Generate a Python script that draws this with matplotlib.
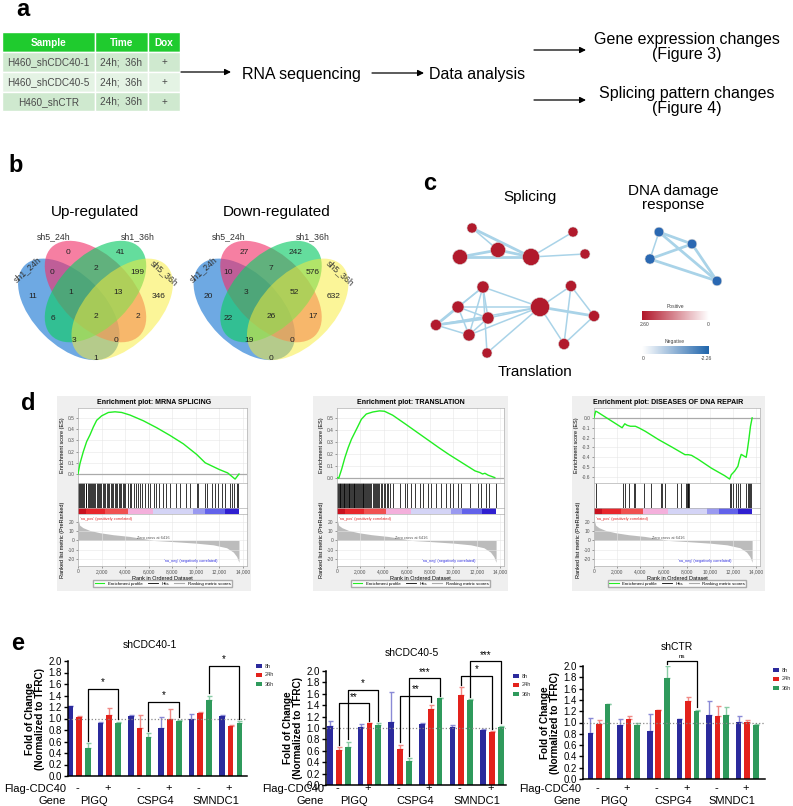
import numpy as np
import matplotlib
matplotlib.use('Agg')
import matplotlib.pyplot as plt
from matplotlib.patches import Rectangle, Ellipse, Patch
from matplotlib.lines import Line2D
from matplotlib.colors import LinearSegmentedColormap
import matplotlib.transforms as mtrans

plt.rcParams['font.family'] = ['Liberation Sans', 'DejaVu Sans']

W, H = 793, 806

######################################################################
# data

# a: samples
table_header = ['Sample', 'Time', 'Dox']
table_rows = [['H460_shCDC40-1', '24h;  36h', '+'],
              ['H460_shCDC40-5', '24h;  36h', '+'],
              ['H460_shCTR', '24h;  36h', '+']]

# b: venn counts (regions: p, g, bp, pg, gy, b, bpg, pgy, y, bg, bpgy, py, bgy, bpy, by)
venn_sets = ['sh1_24h', 'sh5_24h', 'sh1_36h', 'sh5_36h']
up_counts = [0, 41, 0, 2, 199, 11, 1, 13, 346, 6, 2, 2, 3, 0, 1]
down_counts = [27, 242, 10, 7, 576, 20, 3, 52, 632, 22, 26, 17, 19, 0, 0]

# c: enrichment map (node size ~ gene set size, edges = overlaps)
splice_size = [5, 7.5, 7.5, 8.5, 5, 5, 6, 6, 5.5, 6, 6, 5, 9.5, 5.5, 5.5, 5.5]
splice_edges = [(0, 2), (0, 3), (1, 2), (1, 3), (2, 3), (3, 4), (3, 5),
                (6, 7), (6, 8), (6, 9), (6, 10), (6, 11), (6, 12), (7, 8), (7, 9),
                (7, 10), (7, 12), (8, 9), (8, 10), (8, 12), (9, 10), (9, 12),
                (10, 12), (11, 12), (12, 13), (12, 14), (12, 15), (13, 14),
                (13, 15), (14, 15)]
dna_size = [4.8, 4.8, 5, 4.8]
dna_edges = [(0, 1), (0, 2), (0, 3), (1, 2), (1, 3), (2, 3)]

# d: GSEA
mrna_rank = [0, 170, 450, 735, 1018, 1300, 1584, 2010, 2574, 3140, 3710, 4412, 5543,
             6674, 7806, 8937, 10070, 10700, 10800, 11300, 12000, 12700, 13330, 13660]
mrna_es = [0, 0.095, 0.20, 0.29, 0.35, 0.42, 0.48, 0.52, 0.55, 0.556, 0.55, 0.527, 0.476,
           0.414, 0.345, 0.27, 0.175, 0.11, 0.10, 0.075, 0.04, 0.01, -0.045, 0.0]
mrna_hits = [40, 110, 200, 290, 370, 460, 540, 640, 720, 820, 920, 1010, 1100, 1200, 1290,
             1390, 1480, 1570, 1680, 1790, 1880, 1990, 2100, 2210, 2320, 2430, 2550, 2660,
             2770, 2880, 3000, 3110, 3230, 3350, 3450, 3570, 3680, 3800, 3910, 4030, 4250,
             4390, 4530, 4730, 4900, 5100, 5240, 5470, 5670, 5950, 6150, 6420, 6650, 6900,
             7200, 7450, 7800, 8350, 8640, 9200, 9500, 10060, 10200, 10770, 10910, 11340,
             11620, 11900, 12180, 12470, 12900, 13040, 13240, 13460, 13600]

trans_rank = [0, 150, 400, 679, 962, 1244, 1527, 1810, 2093, 2517, 3083, 3648, 4073, 4780,
              5911, 7325, 8739, 9588, 10719, 11850, 12275, 12500, 12700, 12982, 13548]
trans_es = [0, -0.005, 0.07, 0.167, 0.25, 0.32, 0.375, 0.43, 0.486, 0.53, 0.547, 0.556,
            0.553, 0.52, 0.444, 0.347, 0.25, 0.194, 0.125, 0.056, 0.042, 0.03, 0.036, 0.02, 0.0]
trans_hits = [30, 90, 150, 230, 300, 360, 430, 500, 570, 640, 700, 780, 850, 920, 990, 1060,
              1130, 1200, 1270, 1340, 1420, 1490, 1560, 1640, 1720, 1800, 1880, 1950, 2030,
              2110, 2190, 2270, 2350, 2430, 2520, 2600, 2690, 2780, 2870, 2960, 3060, 3150,
              3250, 3340, 3440, 3540, 3640, 3760, 3880, 4000, 4130, 4270, 4420, 4580, 4800,
              5400, 5830, 5980, 6320, 6690, 7120, 7400, 7830, 8110, 8540, 8970, 9390, 9680,
              9960, 10390, 10670, 11380, 12100, 12380, 12810, 13090, 13620]

dna_rank = [0, 143, 286, 2429, 2658, 2858, 3144, 3573, 3858, 4430, 5573, 6716, 7860, 8145,
            8431, 9003, 10146, 11289, 11718, 11861, 12147, 12432, 12575, 12718, 13146, 13232,
            13375, 13518, 13660]
dna_es = [0, 0.068, 0.06, -0.10, -0.06, -0.075, -0.085, -0.085, -0.10, -0.136, -0.22,
          -0.295, -0.373, -0.373, -0.38, -0.42, -0.51, -0.586, -0.62, -0.576, -0.54, -0.49,
          -0.42, -0.37, -0.40, -0.34, -0.22, -0.085, 0.0]
dna_hits = [200, 2486, 2658, 3058, 3430, 3573, 4287, 4916, 5773, 5916, 6145, 7145, 7517,
            7917, 8002, 8088, 8145, 8231, 11718, 11861, 12004, 12289, 12432, 12575, 13146,
            13289, 13432, 13518, 13604]

metric_rank = [0, 142, 425, 992, 1842, 2976, 4393, 5810, 6416, 7500, 8700, 10060, 11480,
               12610, 13180, 13460, 13660]
metric_val = [24, 16.7, 14, 11, 8.5, 6.3, 4.4, 1.5, 0, -0.8, -1.8, -3, -4.8, -8, -12.8,
              -17.6, -24]
band_edges = [0, 700, 2300, 4250, 6380, 9780, 10770, 12470, 13660]
band_colors = ['#c8101e', '#e8262c', '#f05050', '#f4b0dc', '#d4d4f6', '#9a9af0',
               '#6262ea', '#2f1fd0']

# e: qPCR, groups = PIGQ-, PIGQ+, CSPG4-, CSPG4+, SMNDC1-, SMNDC1+
flag = ['-', '+', '-', '+', '-', '+']
genes = ['PIGQ', 'CSPG4', 'SMNDC1']
times = ['8h', '24h', '36h']

sh1_vals = [[1.21, 0.93, 1.05, 0.84, 0.99, 1.05],
            [1.03, 1.06, 0.83, 1.00, 1.09, 0.87],
            [0.49, 0.925, 0.68, 0.96, 1.33, 0.92]]
sh1_err = [[0.0, 0.01, 0.01, 0.18, 0.08, 0.01],
           [0.01, 0.12, 0.23, 0.17, 0.03, 0.01],
           [0.08, 0.02, 0.06, 0.02, 0.07, 0.03]]
sh1_sig = [(0, 2, 1, 2, 1.51, '*'), (2, 2, 3, 2, 1.29, '*'), (4, 2, 5, 2, 1.92, '*')]

sh5_vals = [[1.04, 1.02, 1.11, 1.07, 1.01, 0.97],
            [0.61, 1.08, 0.63, 1.34, 1.58, 0.93],
            [0.66, 1.05, 0.42, 1.52, 1.50, 1.02]]
sh5_err = [[0.09, 0.05, 0.52, 0.01, 0.05, 0.01],
           [0.06, 0.01, 0.08, 0.07, 0.14, 0.02],
           [0.10, 0.04, 0.05, 0.01, 0.01, 0.02]]
sh5_sig = [(0, 1, 1, 1, 1.43, '**'), (0, 2, 1, 2, 1.67, '*'), (2, 1, 3, 1, 1.56, '**'),
           (2, 2, 3, 2, 1.87, '***'), (4, 1, 5, 1, 1.92, '*'), (4, 2, 5, 2, 2.17, '***')]

ctr_vals = [[0.82, 0.96, 0.85, 1.06, 1.13, 1.01],
            [0.97, 1.07, 1.22, 1.38, 1.12, 1.01],
            [1.32, 0.95, 1.78, 1.20, 1.13, 0.95]]
ctr_err = [[0.26, 0.11, 0.30, 0.0, 0.25, 0.10],
           [0.08, 0.04, 0.01, 0.07, 0.17, 0.03],
           [0.0, 0.04, 0.22, 0.03, 0.15, 0.03]]
ctr_sig = [(2, 2, 3, 2, 2.09, 'ns')]


######################################################################
# figure / helpers

fig = plt.figure(figsize=(W / 100, H / 100), dpi=100)
bg = fig.add_axes([0, 0, 1, 1])
bg.set_xlim(0, W)
bg.set_ylim(H, 0)
bg.axis('off')


def px_axes(x0, y0, x1, y1):
    return fig.add_axes([x0 / W, 1 - y1 / H, (x1 - x0) / W, (y1 - y0) / H])


for lab, x, y in [('a', 23, 10), ('b', 16, 166), ('c', 430, 183), ('d', 28, 403), ('e', 18, 644)]:
    bg.text(x, y, lab, fontsize=17, fontweight='bold', ha='center', va='center')

######################################################################
# a

col_x = [2, 95, 148, 180]
row_y = [32, 52, 72, 92, 111]
row_cols = ['#1fcb2e', '#cfe9cf', '#e4f3e4', '#cfe9cf']
cells = [table_header] + table_rows
for r in range(4):
    for c in range(3):
        bg.add_patch(Rectangle((col_x[c], row_y[r]), col_x[c + 1] - col_x[c], row_y[r + 1] - row_y[r],
                               facecolor=row_cols[r], edgecolor='white', lw=1))
        bg.text((col_x[c] + col_x[c + 1]) / 2, (row_y[r] + row_y[r + 1]) / 2 + 0.5, cells[r][c],
                ha='center', va='center', fontsize=7.2,
                color='white' if r == 0 else '#4a4a4a', fontweight='bold' if r == 0 else 'normal')

arr = dict(arrowstyle='-|>', lw=0.9, color='black', mutation_scale=9, shrinkA=0, shrinkB=0)
bg.annotate('', xy=(231, 72), xytext=(181, 72), arrowprops=arr)
bg.text(242, 74, 'RNA sequencing', fontsize=11.5, va='center')
bg.annotate('', xy=(424, 73), xytext=(372, 73), arrowprops=arr)
bg.text(429, 74, 'Data analysis', fontsize=11.5, va='center')
bg.annotate('', xy=(586, 50), xytext=(534, 50), arrowprops=arr)
bg.annotate('', xy=(586, 100), xytext=(534, 100), arrowprops=arr)
bg.text(687, 47, 'Gene expression changes\n(Figure 3)', fontsize=11.5, ha='center', va='center',
        linespacing=1.05)
bg.text(687, 101, 'Splicing pattern changes\n(Figure 4)', fontsize=11.5, ha='center', va='center',
        linespacing=1.05)

######################################################################
# b

venn_shapes = [(0.35, 0.47, 45, '#2a80d6', 0.68), (0.5, 0.57, 45, '#f2306a', 0.62),
               (0.5, 0.57, -45, '#14cc6a', 0.66), (0.65, 0.47, -45, '#f8ec3a', 0.52)]
count_pos = [(-27, -51), (25, -51), (-43, -31), (0, -35), (42, -31), (-63, -7), (-25, -12),
             (23, -12), (63, -7), (-43, 14), (0, 13), (42, 13), (-22, 36), (21, 36), (0, 54)]
set_pos = [(-68, -34, 42), (-42, -67, 0), (42, -67, 0), (69, -31, -42)]


def venn(cx, cy, counts, title, tx):
    S = 178
    for u, v, ang, col, al in venn_shapes:
        bg.add_patch(Ellipse((cx + (u - 0.5) * S, cy - (v - 0.5) * S), 0.7 * S, 0.4 * S,
                             angle=ang, facecolor=col, alpha=al, edgecolor='none'))
    for (dx, dy), n in zip(count_pos, counts):
        bg.text(cx + dx, cy + dy, str(n), ha='center', va='center', fontsize=6, color='#222222')
    for (dx, dy, rot), name in zip(set_pos, venn_sets):
        bg.text(cx + dx, cy + dy, name, ha='center', va='center', fontsize=6.3,
                color='#333333', rotation=rot)
    bg.text(tx, 212, title, ha='center', va='center', fontsize=11)


venn(95.5, 304, up_counts, 'Up-regulated', 95)
venn(271, 304, down_counts, 'Down-regulated', 277)

######################################################################
# c

splice_layout = [(472, 228), (460, 257), (498, 250), (531, 257), (573, 232), (585, 254),
                 (483, 287), (458, 307), (436, 325), (488, 318), (469, 335), (487, 353),
                 (540, 307), (571, 286), (594, 316), (564, 344)]
dna_layout = [(659, 232), (692, 244), (650, 259), (717, 281)]
thick_edges = [(1, 2), (1, 3), (2, 3), (7, 8), (8, 9), (12, 14), (0, 1), (0, 3)]

for layout, edges, sizes, col in [(splice_layout, splice_edges, splice_size, '#b11a2c'),
                                  (dna_layout, dna_edges, dna_size, '#2a68b2')]:
    for i, j in edges:
        lw = 2.0 if (i, j) in thick_edges else 1.1
        bg.plot([layout[i][0], layout[j][0]], [layout[i][1], layout[j][1]],
                color='#a9d3e8', lw=lw, zorder=2)
    xs = [p[0] for p in layout]
    ys = [p[1] for p in layout]
    bg.scatter(xs, ys, s=[(2 * r * 0.72) ** 2 for r in sizes], color=col,
               edgecolor='#d8d8d8', linewidth=0.4, zorder=3)

bg.text(530, 197, 'Splicing', ha='center', va='center', fontsize=11)
bg.text(673, 198, 'DNA damage\nresponse', ha='center', va='center', fontsize=11, linespacing=0.95)
bg.text(535, 372, 'Translation', ha='center', va='center', fontsize=11)

pos_cmap = LinearSegmentedColormap.from_list('pos', ['#b2182b', '#ffffff'])
neg_cmap = LinearSegmentedColormap.from_list('neg', ['#ffffff', '#2166ac'])
for y0, y1, cmap in [(311, 320, pos_cmap), (346, 354, neg_cmap)]:
    cax = px_axes(642, y0, 709, y1)
    cax.imshow(np.linspace(0, 1, 100)[None, :], aspect='auto', cmap=cmap)
    cax.axis('off')
bg.text(675, 306, 'Positive', ha='center', va='center', fontsize=3.6, color='#444444')
bg.text(645, 324, '2.60', ha='center', va='center', fontsize=3.6, color='#444444')
bg.text(708, 324, '0', ha='center', va='center', fontsize=3.6, color='#444444')
bg.text(675, 341, 'Negative', ha='center', va='center', fontsize=3.6, color='#444444')
bg.text(643, 358, '0', ha='center', va='center', fontsize=3.6, color='#444444')
bg.text(706, 358, '-2.26', ha='center', va='center', fontsize=3.6, color='#444444')

######################################################################
# d

xt = list(range(0, 14001, 2000))


def gsea(fx0, fx1, px0, px1, title, es_rank, es, hits, ylim, yticks):
    bg.add_patch(Rectangle((fx0, 396), fx1 - fx0, 195, facecolor='#efefef', edgecolor='none'))
    bg.text((fx0 + fx1) / 2, 402, 'Enrichment plot: ' + title, ha='center', va='center',
            fontsize=5, fontweight='bold')

    ax = px_axes(px0, 408, px1, 483)
    ax.plot(es_rank, es, color='#22ee22', lw=1.0, zorder=3)
    ax.axhline(0, color='#aaaaaa', lw=0.9, zorder=2)
    ax.set_xlim(0, 14340)
    ax.set_ylim(*ylim)
    ax.set_xticks(xt)
    ax.set_xticklabels([])
    ax.set_yticks(yticks)
    ax.set_yticklabels(['%.1f' % t for t in yticks], fontsize=3.5)
    ax.grid(color='#e6e6e6', lw=0.4)
    ax.set_ylabel('Enrichment score (ES)', fontsize=4, labelpad=2)

    hx = px_axes(px0, 483, px1, 508)
    hx.vlines(hits, 0, 1, color='black', lw=0.55)
    hx.set_xlim(0, 14340)
    hx.set_ylim(0, 1)
    hx.set_xticks([])
    hx.set_yticks([])

    cx = px_axes(px0, 508, px1, 514)
    for k in range(len(band_colors)):
        cx.axvspan(band_edges[k], band_edges[k + 1], color=band_colors[k], lw=0)
    cx.set_xlim(0, 14340)
    cx.set_xticks([])
    cx.set_yticks([])

    mx = px_axes(px0, 514, px1, 566)
    mx.fill_between(metric_rank, metric_val, 0, color='#bcbcbc', lw=0)
    mx.set_xlim(0, 14340)
    mx.set_ylim(-28, 29)
    mx.set_yticks([-20, -10, 0, 10, 20])
    mx.set_yticklabels(['-20', '-10', '0', '10', '20'], fontsize=3.5)
    mx.set_xticks(xt)
    mx.set_xticklabels(['{:,}'.format(v) for v in xt], fontsize=3.5)
    mx.grid(color='#e6e6e6', lw=0.4)
    mx.set_xlabel('Rank in Ordered Dataset', fontsize=4, labelpad=1)
    mx.set_ylabel('Ranked list metric (PreRanked)', fontsize=4, labelpad=1.5)
    mx.text(150, 26, "'na_pos' (positively correlated)", fontsize=2.8, color='#e02020', va='top')
    mx.text(6416, 0.8, 'Zero cross at 6416', fontsize=2.8, color='#555555', ha='center', va='bottom')
    mx.text(9600, -22, "'na_neg' (negatively correlated)", fontsize=2.8, color='#3030e0',
            ha='center', va='center')
    hnd = [Line2D([], [], color='#22ee22', lw=0.8), Line2D([], [], color='black', lw=0.6),
           Line2D([], [], color='#aaaaaa', lw=0.8)]
    mx.legend(hnd, ['Enrichment profile', 'Hits', 'Ranking metric scores'], loc='center',
              bbox_to_anchor=(0.5, -0.34), ncol=3, fontsize=3.2, frameon=True, fancybox=False,
              edgecolor='#999999', handlelength=2.2, borderpad=0.3, columnspacing=1.2)

    for a in (ax, hx, cx, mx):
        for s in a.spines.values():
            s.set_color('#b0b0b0')
            s.set_linewidth(0.5)
        a.tick_params(length=1.5, width=0.4, pad=1, colors='#555555')


gsea(57, 251, 78, 247, 'MRNA SPLICING', mrna_rank, mrna_es, mrna_hits, (-0.08, 0.59),
     [0.0, 0.1, 0.2, 0.3, 0.4, 0.5])
gsea(313, 508, 337, 504, 'TRANSLATION', trans_rank, trans_es, trans_hits, (-0.045, 0.58),
     [0.0, 0.1, 0.2, 0.3, 0.4, 0.5])
gsea(572, 765, 594, 760, 'DISEASES OF DNA REPAIR', dna_rank, dna_es, dna_hits, (-0.66, 0.10),
     [0.0, -0.1, -0.2, -0.3, -0.4, -0.5, -0.6])

######################################################################
# e

bar_cols = ['#2b2a9c', '#e3221c', '#2f9a5c']
err_cols = ['#8a8ad6', '#f08a86', '#8acca6']


def bar_panel(box, xlim, vals, errs, sigs, title, title_xy, leg_xy, row_x):
    ax = px_axes(*box)
    x = np.arange(6)
    for k in range(3):
        v = np.array(vals[k])
        e = np.array(errs[k])
        ax.bar(x + (k - 1) * 0.29, v, width=0.19, color=bar_cols[k], zorder=2,
               yerr=[np.zeros(6), e],
               error_kw=dict(ecolor=err_cols[k], elinewidth=1.0, capsize=1.8, capthick=1.0, zorder=1))
    ax.axhline(1.0, color='#888888', lw=0.9, ls=':', zorder=3)
    for g0, k0, g1, k1, h, lab in sigs:
        xa = g0 + (k0 - 1) * 0.29
        xb = g1 + (k1 - 1) * 0.29
        ya = vals[k0][g0] + errs[k0][g0] + 0.04
        yb = vals[k1][g1] + errs[k1][g1] + 0.04
        ax.plot([xa, xa, xb, xb], [ya, h, h, yb], color='black', lw=0.9, clip_on=False, zorder=4)
        ax.text((xa + xb) / 2, h + 0.03, lab, ha='center', va='bottom',
                fontsize=4.5 if lab == 'ns' else 7, clip_on=False)
    ax.set_xlim(*xlim)
    ax.set_ylim(0, 2.0)
    ax.set_yticks(np.arange(0, 2.01, 0.2))
    ax.set_yticklabels(['%.1f' % t for t in np.arange(0, 2.01, 0.2)], fontsize=7)
    ax.set_xticks([])
    ax.spines['top'].set_visible(False)
    ax.spines['right'].set_visible(False)
    ax.spines['left'].set_linewidth(1.1)
    ax.spines['bottom'].set_linewidth(1.1)
    ax.tick_params(axis='y', length=3, width=1.0, pad=1.5)
    ax.set_ylabel('Fold of Change\n(Normalized to TFRC)', fontsize=7.2, fontweight='bold',
                  labelpad=2, linespacing=1.0)
    tr = mtrans.blended_transform_factory(ax.transData, bg.transData)
    for i, f in enumerate(flag):
        ax.text(i - 0.05, 788, f, transform=tr, ha='center', va='center', fontsize=8)
    for i, gname in enumerate(genes):
        ax.text(2 * i + 0.5, 801, gname, transform=tr, ha='center', va='center', fontsize=8)
    bg.text(row_x, 789, 'Flag-CDC40', ha='right', va='center', fontsize=8)
    bg.text(row_x, 801, 'Gene', ha='right', va='center', fontsize=8)
    bg.text(title_xy[0], title_xy[1], title, ha='center', va='center', fontsize=7.5)
    for k in range(3):
        lx, ly = leg_xy
        bg.add_patch(Rectangle((lx, ly + 9 * k - 1.8), 6, 3.6, facecolor=bar_cols[k], edgecolor='none'))
        bg.text(lx + 9, ly + 9 * k, times[k], fontsize=4, va='center', color='#333333')


bar_panel((68, 661, 247, 776), (-0.36, 5.54), sh1_vals, sh1_err, sh1_sig, 'shCDC40-1',
          (150, 645), (256, 666), 66)
bar_panel((326, 671, 506, 785), (-0.42, 5.46), sh5_vals, sh5_err, sh5_sig, 'shCDC40-5',
          (412, 653), (513, 676), 324)
bar_panel((583, 666, 765, 779), (-0.54, 5.6), ctr_vals, ctr_err, ctr_sig, 'shCTR',
          (677, 647), (773, 670), 581)

plt.savefig('out.png', dpi=100)
